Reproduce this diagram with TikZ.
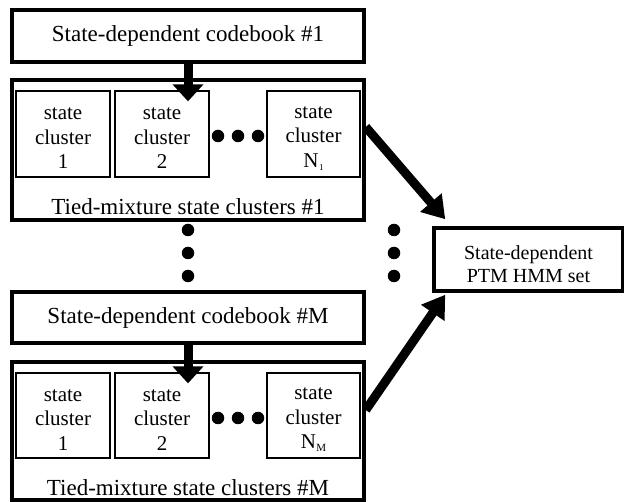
\documentclass[tikz,border=0pt]{standalone}
\usepackage{fontspec}
\setmainfont{Liberation Serif}
\usetikzlibrary{arrows.meta}
\begin{document}
\begin{tikzpicture}[x=1pt,y=-1pt,
  outerbox/.style={draw,line width=3.5pt,inner sep=0pt},
  cltext/.style={align=center,font=\fontsize{21}{24.5}\selectfont,inner sep=0pt,yshift=-4.5pt},
  clbox/.style={draw,line width=1.3pt,inner sep=0pt,minimum width=94pt,minimum height=86pt,label={[cltext]center:#1}},
  bigtext/.style={font=\fontsize{23}{26}\selectfont,inner sep=0pt},
  dotmark/.style={circle,fill=black,inner sep=0pt,minimum size=12.5pt},
  vflow/.style={line width=9pt,-{Triangle[length=17pt,width=30pt]}},
  dflow/.style={line width=9pt,-{Triangle[length=22pt,width=27pt]}}]
\useasboundingbox (0,0) rectangle (624,502);
\newcommand{\subone}{N\kern0.5pt\raisebox{-0.3ex}{\fontsize{9}{9}\selectfont 1}}
\newcommand{\subM}{N\kern0.5pt\raisebox{-0.3ex}{\fontsize{11}{11}\selectfont M}}
% group 1
\node[outerbox,minimum width=352pt,minimum height=52pt] (cb1) at (188,36) {};
\node[bigtext] (cb1t) at (188,36) {State-dependent codebook \#1};
\node[outerbox,minimum width=352pt,minimum height=140pt] (tm1) at (188,150) {};
\node[bigtext] (tm1t) at (188,207) {Tied-mixture state clusters \#1};
\node[clbox={state\\cluster\\1}] (c11) at (63,134) {};
\node[clbox={state\\cluster\\2}] (c12) at (162,134) {};
\node[clbox={state\\cluster\\\subone},minimum width=93pt] (c1n) at (313.5,134) {};
\node[dotmark] (h1a) at (218,136) {};
\node[dotmark] (h1b) at (238,136) {};
\node[dotmark] (h1c) at (258,136) {};
% vertical dots
\node[dotmark] (v1) at (188,230) {};
\node[dotmark] (v2) at (188,253) {};
\node[dotmark] (v3) at (188,276) {};
\node[dotmark] (w1) at (394,230) {};
\node[dotmark] (w2) at (394,253) {};
\node[dotmark] (w3) at (394,276) {};
% PTM
\node[outerbox,minimum width=189pt,minimum height=63pt,label={[align=center,font=\fontsize{20}{23.5}\selectfont,inner sep=0pt,yshift=-4.5pt]center:State-dependent\\PTM HMM set}] (ptm) at (528.5,259.5) {};
% group M
\node[outerbox,minimum width=352pt,minimum height=51pt] (cbm) at (188,317.5) {};
\node[bigtext] (cbmt) at (188,317.5) {State-dependent codebook \#M};
\node[outerbox,minimum width=352pt,minimum height=138pt] (tmm) at (188,431) {};
\node[bigtext] (tmmt) at (188,488) {Tied-mixture state clusters \#M};
\node[clbox={state\\cluster\\1},minimum height=85pt] (cm1) at (63,415.5) {};
\node[clbox={state\\cluster\\2},minimum height=85pt] (cm2) at (162,415.5) {};
\node[clbox={state\\cluster\\\subM},minimum width=93pt,minimum height=85pt] (cmn) at (313.5,415.5) {};
\node[dotmark] (hma) at (218,418) {};
\node[dotmark] (hmb) at (238,418) {};
\node[dotmark] (hmc) at (258,418) {};
% arrows
\draw[vflow,shorten >=-11pt] (cb1.south) -- (cb1.south |- c12.north);
\draw[vflow,shorten >=-11pt] (cbm.south) -- (cbm.south |- cm2.north);
\draw[dflow] ([yshift=23pt]tm1.east) -- ([xshift=13pt,yshift=7pt]ptm.north west);
\draw[dflow] ([yshift=21pt]tmm.east) -- ([xshift=13pt,yshift=-2pt]ptm.south west);
\end{tikzpicture}
\end{document}
